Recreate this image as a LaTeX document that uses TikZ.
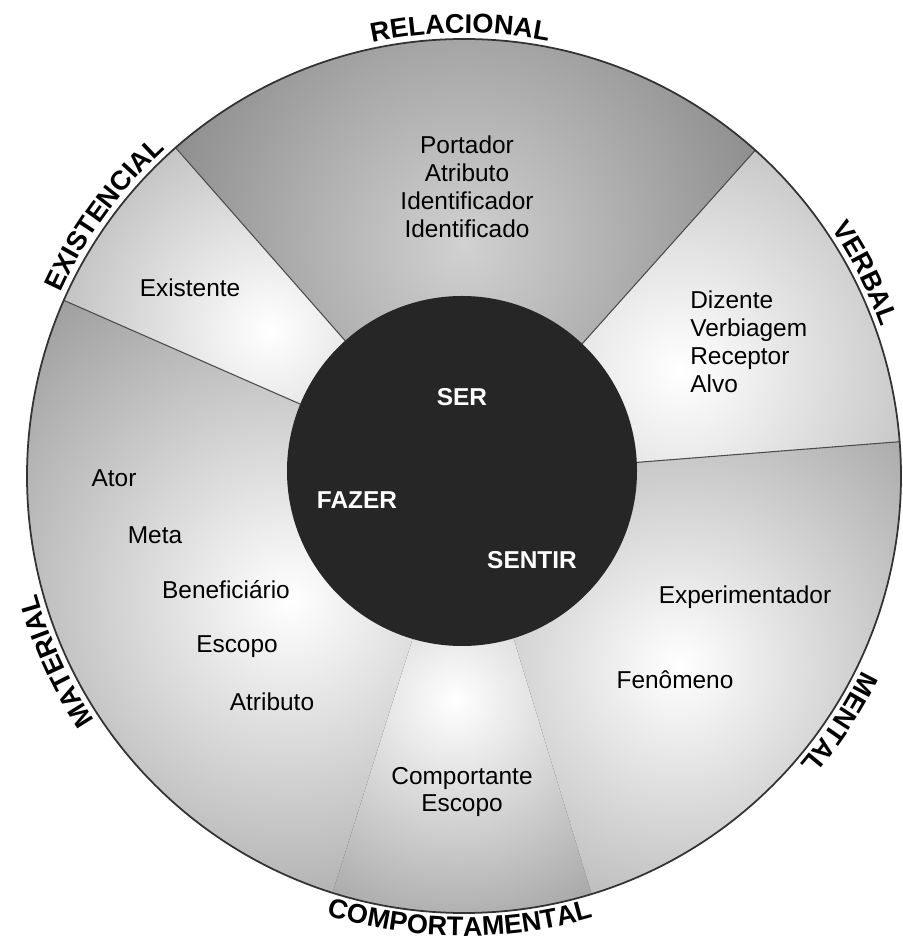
\documentclass[tikz,border=0pt]{standalone}
\usepackage{fontspec}
\setmainfont{Liberation Sans}
\usetikzlibrary{decorations.text}

\newcommand{\rolefont}{\fontsize{13.9}{15.9}\selectfont}
\newcommand{\procfont}{\fontsize{15.4}{18}\selectfont\bfseries}

\tikzset{
    role/.style = {font=\rolefont, inner sep=0pt, align=center},
    core/.style = {font=\rolefont\bfseries, text=white, inner sep=0pt},
    procname/.style = {decorate, decoration={text along path, text align=center, text={|\procfont|#1}}},
    edge line/.style = {black!70, line width=0.6pt}
}

\begin{document}
\begin{tikzpicture}
    \def\R{8.74}   % outer circle
    \def\r{3.5}    % inner circle
    \def\Rt{8.86}  % labels, tops outward
    \def\Rb{9.2}   % label at the bottom

    \useasboundingbox (-9.28,-9.34) rectangle (8.76,9.52);

    \coordinate (O) at (0,0);
    \coordinate (I) at (-0.04,0.10);

    % sectors: from/to angle, focus, inner and outer grey, shade size
    \foreach \a/\b/\fx/\fy/\ci/\co/\s in {
        4.5/48.2/4.32/2.12/0/48/10.4,
        48.2/131.3/0.0/4.6/18/64/10.8,
        131.3/156.3/-3.88/2.92/0/52/9.2,
        156.3/252.5/-3.48/-2.48/0/60/12,
        252.5/287/-0.18/-4.48/0/66/9.2,
        287/364.5/4.3/-3.8/0/58/11.2}{
        \begin{scope}
            \clip (O) -- (\a:\R) arc[start angle=\a, end angle=\b, radius=\R] -- cycle;
            \fill[black!\co] (O) circle (\R);
            \shade[inner color=black!\ci, outer color=black!\co] (\fx,\fy) circle (\s);
        \end{scope}
    }

    \draw[edge line] (O) -- (4.5:\R);
    \draw[edge line] (O) -- (48.2:\R);
    \draw[edge line] (O) -- (131.3:\R);
    \draw[edge line] (O) -- (156.3:\R);

    \draw[black!80, line width=1pt] (O) circle (\R);
    \fill[black!85] (I) circle (\r);

    % roles
    \node[role] (relroles) at (0.06,5.79) {Portador\\Atributo\\Identificador\\Identificado};
    \node[role] (exist) at (-5.48,3.76) {Existente};
    \node[role, align=left, anchor=west] (verbroles) at (4.52,2.69) {Dizente\\Verbiagem\\Receptor\\Alvo};
    \node[role] (ator) at (-7.00,-0.04) {Ator};
    \node[role] (meta) at (-6.18,-1.18) {Meta};
    \node[role] (benef) at (-4.76,-2.28) {Beneficiário};
    \node[role] (escopo) at (-4.54,-3.42) {Escopo};
    \node[role] (atrib) at (-3.84,-4.52) {Atributo};
    \node[role] (comproles) at (-0.04,-6.32) {Comportante\\Escopo};
    \node[role] (exper) at (5.62,-2.42) {Experimentador};
    \node[role] (fenom) at (4.22,-4.08) {Fenômeno};

    \node[core] (ser) at (-0.04,1.58) {SER};
    \node[core] (fazer) at (-2.14,-0.48) {FAZER};
    \node[core] (sentir) at (1.36,-1.68) {SENTIR};

    % process names round the circle
    \path[procname=RELACIONAL] (120.5:\Rt) arc[start angle=120.5, end angle=60.5, radius=\Rt];
    \path[procname=EXISTENCIAL] (174:\Rt) arc[start angle=174, end angle=114, radius=\Rt];
    \path[procname=VERBAL] (56.8:\Rt) arc[start angle=56.8, end angle=-3.2, radius=\Rt];
    \path[procname=MENTAL] (-3.3:\Rt) arc[start angle=-3.3, end angle=-63.3, radius=\Rt];
    \path[procname=MATERIAL] (234.5:\Rt) arc[start angle=234.5, end angle=174.5, radius=\Rt];
    \path[procname=COMPORTAMENTAL] (-125.5:\Rb) arc[start angle=-125.5, end angle=-55.5, radius=\Rb];
\end{tikzpicture}
\end{document}
